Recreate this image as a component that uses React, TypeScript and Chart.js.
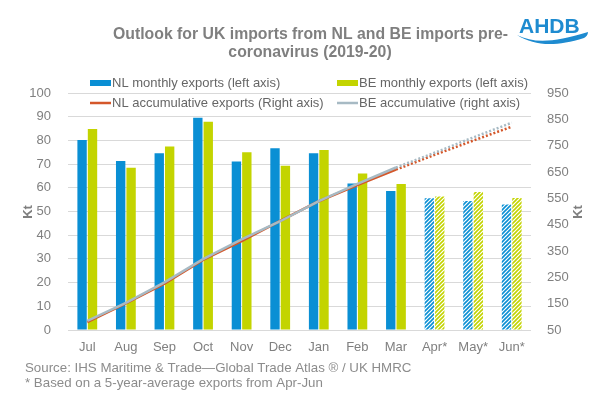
import React, { useEffect, useRef } from "react";
import { Chart, registerables } from "chart.js";

Chart.register(...registerables);

const categories = ["Jul", "Aug", "Sep", "Oct", "Nov", "Dec", "Jan", "Feb", "Mar", "Apr*", "May*", "Jun*"];
const nlMonthly = [80.2, 71.3, 74.6, 89.6, 71.1, 76.7, 74.6, 61.8, 58.7, 55.6, 54.4, 53.0];
const beMonthly = [84.8, 68.5, 77.4, 87.9, 75.0, 69.3, 76.0, 66.0, 61.6, 56.3, 58.2, 55.7];
const nlCumulative = [80, 151, 226, 316, 387, 464, 539, 600, 659, 715, 769, 822];
const beCumulative = [85, 153, 231, 319, 394, 463, 539, 605, 667, 723, 781, 837];
const forecastFrom = 9; // index of first forecast month
const leftTicks = { min: 0, max: 100, step: 10 };
const rightTicks = { min: 50, max: 950, step: 100 };

const titleLines = ["Outlook for UK imports from NL and BE imports pre-", "coronavirus (2019-20)"];
const footnotes = [
  "Source: IHS Maritime & Trade\u2014Global Trade Atlas \u00ae / UK HMRC",
  "* Based on a 5-year-average exports from Apr-Jun",
];
const legendLabels = [
  "NL monthly exports (left axis)",
  "BE monthly exports (left axis)",
  "NL accumulative exports (Right axis)",
  "BE accumulative (right axis)",
];

const BLUE = "#0A8FD4";
const GREEN = "#C3D400";
const ORANGE = "#D4572A";
const GREYLINE = "#A7BAC4";
const FONT = "'Liberation Sans', Arial, sans-serif";

function makePattern(color: string): CanvasPattern | string {
  const s = 4;
  const c = document.createElement("canvas");
  c.width = s;
  c.height = s;
  const g = c.getContext("2d");
  if (!g) return color;
  g.fillStyle = "#ffffff";
  g.fillRect(0, 0, s, s);
  g.strokeStyle = color;
  g.lineWidth = 1.6;
  g.beginPath();
  g.moveTo(-1, s + 1);
  g.lineTo(s + 1, -1);
  g.moveTo(-1, 1);
  g.lineTo(1, -1);
  g.moveTo(s - 1, s + 1);
  g.lineTo(s + 1, s - 1);
  g.stroke();
  const p = g.createPattern(c, "repeat");
  return p || color;
}

const decorPlugin = {
  id: "decor",
  afterDraw(chart: any) {
    const ctx = chart.ctx as CanvasRenderingContext2D;
    ctx.save();
    // Title
    ctx.fillStyle = "#7F7F7F";
    ctx.font = `bold 15.8px ${FONT}`;
    ctx.textAlign = "center";
    ctx.textBaseline = "middle";
    ctx.fillText(titleLines[0], 310.5, 35);
    ctx.fillText(titleLines[1], 310, 53);

    // Logo
    ctx.fillStyle = "#1E8BD0";
    ctx.font = `bold 21px ${FONT}`;
    ctx.textAlign = "left";
    ctx.textBaseline = "alphabetic";
    ctx.fillText("AHDB", 519, 33);
    ctx.beginPath();
    ctx.moveTo(517, 35);
    ctx.bezierCurveTo(535, 44, 555, 42, 588, 32);
    ctx.bezierCurveTo(588, 35, 586, 37, 584, 38);
    ctx.bezierCurveTo(555, 47, 535, 46, 517, 35);
    ctx.fill();

    // Legend
    ctx.font = `13px ${FONT}`;
    ctx.textBaseline = "middle";
    const rows = [83, 103];
    const cols = [90, 337];
    const items = [
      { type: "box", color: BLUE },
      { type: "box", color: GREEN },
      { type: "line", color: ORANGE },
      { type: "line", color: GREYLINE },
    ];
    items.forEach((it, i) => {
      const x = cols[i % 2];
      const y = rows[Math.floor(i / 2)];
      if (it.type === "box") {
        ctx.fillStyle = it.color;
        ctx.fillRect(x, y - 3, 21, 6);
      } else {
        ctx.strokeStyle = it.color;
        ctx.lineWidth = 2.5;
        ctx.beginPath();
        ctx.moveTo(x, y);
        ctx.lineTo(x + 21, y);
        ctx.stroke();
      }
      ctx.fillStyle = "#666666";
      ctx.fillText(legendLabels[i], x + 22, y + 0.5);
    });

    // Axis titles
    ctx.fillStyle = "#7F7F7F";
    ctx.font = `bold 13px ${FONT}`;
    ctx.textAlign = "center";
    ctx.textBaseline = "middle";
    ctx.save();
    ctx.translate(28, 212);
    ctx.rotate(-Math.PI / 2);
    ctx.fillText("Kt", 0, 0);
    ctx.restore();
    ctx.save();
    ctx.translate(578, 212);
    ctx.rotate(-Math.PI / 2);
    ctx.fillText("Kt", 0, 0);
    ctx.restore();

    // Footnotes
    ctx.font = `13.3px ${FONT}`;
    ctx.fillStyle = "#8C8C8C";
    ctx.textAlign = "left";
    ctx.fillText(footnotes[0], 25, 368);
    ctx.fillText(footnotes[1], 25, 383);
    ctx.restore();
  },
};

export default function App() {
  const ref = useRef<HTMLCanvasElement | null>(null);

  useEffect(() => {
    document.body.style.margin = "0";
    const canvas = ref.current;
    if (!canvas) return;
    const nlPat = makePattern(BLUE);
    const bePat = makePattern(GREEN);
    const nlColors = categories.map((_, i) => (i >= forecastFrom ? nlPat : BLUE));
    const beColors = categories.map((_, i) => (i >= forecastFrom ? bePat : GREEN));
    const dash = (c: any) => (c.p0DataIndex >= forecastFrom - 1 ? [2, 2] : undefined);

    const chart = new Chart(canvas, {
      type: "bar",
      data: {
        labels: categories,
        datasets: [
          {
            type: "line",
            label: legendLabels[3],
            data: beCumulative,
            yAxisID: "y1",
            borderColor: GREYLINE,
            borderWidth: 2.5,
            pointRadius: 0,
            tension: 0,
            order: 0,
            segment: { borderDash: dash },
          } as any,
          {
            type: "line",
            label: legendLabels[2],
            data: nlCumulative,
            yAxisID: "y1",
            borderColor: ORANGE,
            borderWidth: 2.5,
            pointRadius: 0,
            tension: 0,
            order: 1,
            segment: { borderDash: dash },
          } as any,
          {
            type: "bar",
            label: legendLabels[0],
            data: nlMonthly,
            yAxisID: "y",
            backgroundColor: nlColors as any,
            categoryPercentage: 0.54,
            barPercentage: 0.9,
            order: 2,
          },
          {
            type: "bar",
            label: legendLabels[1],
            data: beMonthly,
            yAxisID: "y",
            backgroundColor: beColors as any,
            categoryPercentage: 0.54,
            barPercentage: 0.9,
            order: 3,
          },
        ],
      },
      options: {
        responsive: false,
        animation: false,
        devicePixelRatio: 1,
        layout: { padding: { top: 93, bottom: 38, left: 0, right: 0 } },
        plugins: {
          legend: { display: false },
          title: { display: false },
          tooltip: { enabled: false },
        },
        scales: {
          x: {
            grid: { display: false, drawTicks: false },
            border: { display: false },
            ticks: { color: "#808080", font: { size: 13, family: FONT }, padding: 10, maxRotation: 0, autoSkip: false },
            afterFit: (s: any) => {
              s.height = 30;
            },
          },
          y: {
            position: "left",
            min: leftTicks.min,
            max: leftTicks.max,
            ticks: { stepSize: leftTicks.step, color: "#808080", font: { size: 13, family: FONT }, padding: 17 },
            grid: { color: "#D9D9D9", drawTicks: false, lineWidth: 1 },
            border: { display: false },
            afterFit: (s: any) => {
              s.width = 68;
            },
          },
          y1: {
            position: "right",
            min: rightTicks.min,
            max: rightTicks.max,
            ticks: { stepSize: rightTicks.step, color: "#808080", font: { size: 13, family: FONT }, padding: 16 },
            grid: { display: false, drawTicks: false },
            border: { display: false },
            afterFit: (s: any) => {
              s.width = 69;
            },
          },
        },
      },
      plugins: [decorPlugin],
    });
    return () => chart.destroy();
  }, []);

  return (
    <div style={{ width: 600, height: 398, background: "#fff" }}>
      <canvas ref={ref} width={600} height={398} style={{ display: "block" }} />
    </div>
  );
}
